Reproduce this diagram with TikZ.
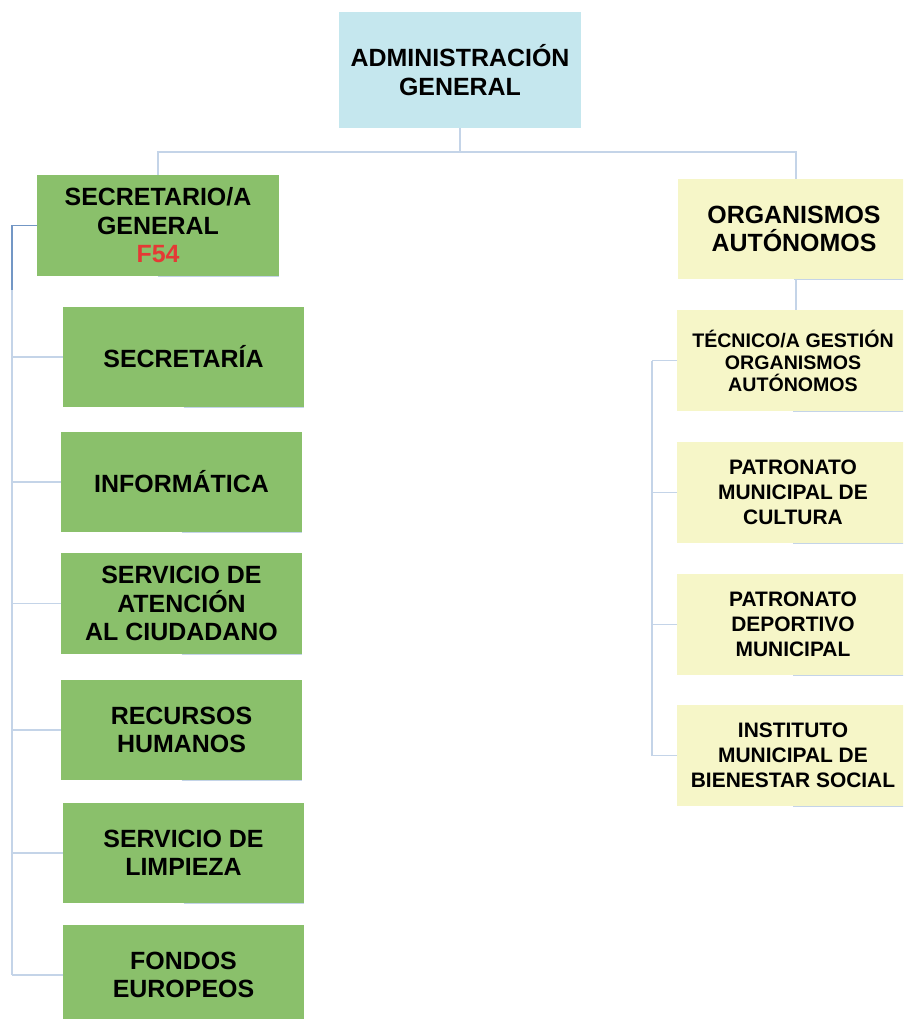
\documentclass[tikz,border=0pt]{standalone}
\usepackage{fontspec}
\setmainfont{Liberation Sans}
\definecolor{topblue}{HTML}{C5E7EE}
\definecolor{boxgreen}{HTML}{8AC06B}
\definecolor{boxyellow}{HTML}{F6F6C8}
\definecolor{fred}{HTML}{E53935}
\definecolor{linelight}{HTML}{C4D4E8}
\definecolor{linedark}{HTML}{7397C5}
\tikzset{
  bx/.style 2 args={rectangle, inner sep=0pt, outer sep=0pt, align=center,
    minimum width={#1*0.75pt}, minimum height={#2*0.75pt}},
  bigtxt/.style={font=\bfseries\fontsize{18.7}{21.4}\selectfont},
  midtxt/.style={font=\bfseries\fontsize{15.7}{18.75}\selectfont},
  smalltxt/.style={font=\bfseries\fontsize{14.7}{16.5}\selectfont},
  gbox/.style={fill=boxgreen, bigtxt},
  ybox/.style={fill=boxyellow},
  edge/.style={draw=linelight, line width=0.8pt},
  edgedark/.style={draw=linedark, line width=0.8pt},
  shade/.style={draw=linelight, line width=0.6pt},
}
\begin{document}
\begin{tikzpicture}[x=0.75pt, y=-0.75pt]
\clip (0,0) rectangle (903,1019);
\fill[white] (0,0) rectangle (903,1019);
% top
\node[bx={242}{116}, fill=topblue, bigtxt] (adm) at (460,70) {ADMINISTRACIÓN\\GENERAL};
% left branch
\node[bx={242}{101}, gbox] (sec) at (158,225.5) {SECRETARIO/A\\GENERAL\\\textcolor{fred}{F54}};
\node[bx={241}{100}, gbox] (s1) at (183.5,357) {SECRETARÍA};
\node[bx={241}{100}, gbox] (s2) at (181.5,482) {INFORMÁTICA};
\node[bx={241}{101}, gbox] (s3) at (181.5,603.5) {SERVICIO DE\\ATENCIÓN\\AL CIUDADANO};
\node[bx={241}{100}, gbox] (s4) at (181.5,730) {RECURSOS\\HUMANOS};
\node[bx={241}{100}, gbox] (s5) at (183.5,853) {SERVICIO DE\\LIMPIEZA};
\node[bx={241}{100}, gbox] (s6) at (183.5,975) {FONDOS\\EUROPEOS};
% right branch
\node[bx={232}{100}, ybox, bigtxt] (org) at (794,229) {ORGANISMOS\\AUTÓNOMOS};
\node[bx={232}{101}, ybox, smalltxt] (r1) at (793,360.5) {TÉCNICO/A GESTIÓN\\ORGANISMOS\\AUTÓNOMOS};
\node[bx={232}{101}, ybox, midtxt] (r2) at (793,492.5) {PATRONATO\\MUNICIPAL DE\\CULTURA};
\node[bx={232}{101}, ybox, midtxt] (r3) at (793,624.5) {PATRONATO\\DEPORTIVO\\MUNICIPAL};
\node[bx={232}{101}, ybox, midtxt] (r4) at (793,755.5) {INSTITUTO\\MUNICIPAL DE\\BIENESTAR SOCIAL};
% bottom shading lines
\foreach \n in {sec,s1,s2,s3,s4,s5,org,r1,r2,r3,r4}
  \draw[shade] (\n.south) -- (\n.south east);
% connectors top
\coordinate (hub) at (460,152);
\coordinate (orgtop) at (796,179);
\coordinate (orgbot) at (796,279);
\coordinate (r1top) at (796,310);
\draw[edge] (adm.south) -- (hub);
\draw[edge] (hub) -| (sec.north);
\draw[edge] (hub) -| (orgtop);
% left trunk
\coordinate (lt) at (12,225.5);
\coordinate (lb) at (12,975);
\draw[edge] (lt) -- (lb);
\draw[edgedark] (sec.west) -- (lt) -- (12,290);
\foreach \n in {s1,s2,s3,s4,s5,s6}
  \draw[edge] (\n.west) -- (12,0 |- \n.west);
% right
\draw[edge] (orgbot) -- (r1top);
\draw[edge] (652,0 |- r1.west) -- (652,0 |- r4.west);
\foreach \n in {r1,r2,r3,r4}
  \draw[edge] (\n.west) -- (652,0 |- \n.west);
\end{tikzpicture}
\end{document}
